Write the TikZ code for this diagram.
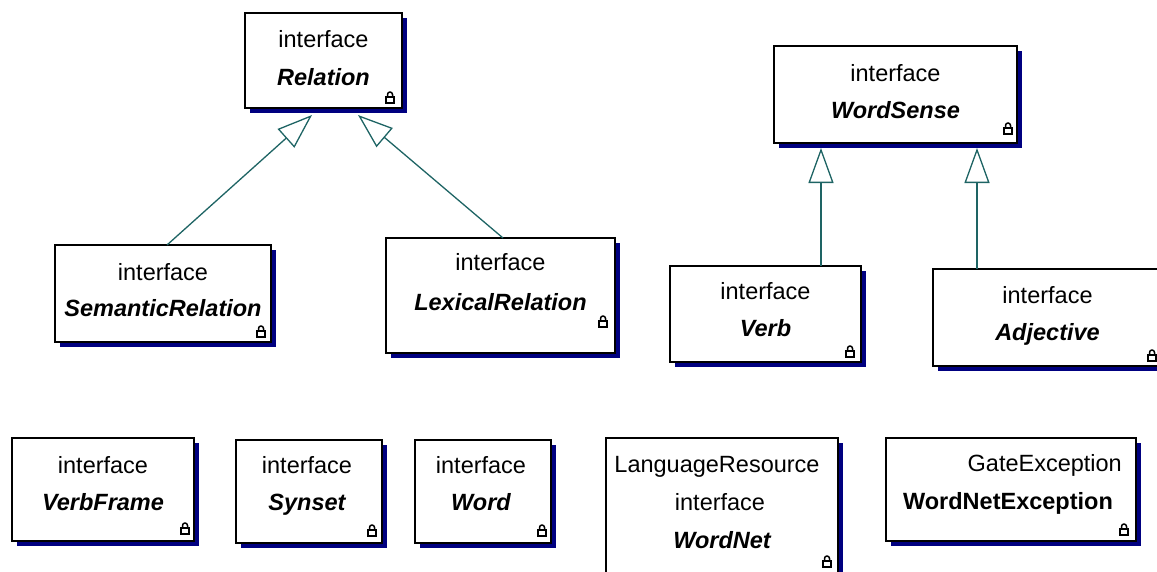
\documentclass[tikz,border=0pt]{standalone}
\usepackage{fontspec}
\setmainfont{Liberation Sans}
\usetikzlibrary{arrows.meta,shadows}
\definecolor{shadowblue}{RGB}{0,0,128}
\definecolor{linkteal}{RGB}{30,100,100}
\newcommand\umlnode[5]{\node[umlbox, anchor=north west, minimum width={#4pt-#2pt}, minimum height={#5pt-#3pt}] (#1) at (#2,#3) {};}
\tikzset{
  umlbox/.style={draw=black, line width=1.5pt, fill=white, inner sep=0pt, outer sep=0pt,
    general shadow={fill=shadowblue, shadow xshift=5pt, shadow yshift=-5pt}},
  itxt/.style={font=\fontsize{23.5pt}{28pt}\selectfont, inner sep=0pt, anchor=base},
  ntxt/.style={itxt, font=\fontsize{23.5pt}{28pt}\selectfont\bfseries\itshape},
  btxt/.style={itxt, font=\fontsize{23.5pt}{28pt}\selectfont\bfseries},
  gen/.style={draw=linkteal, line width=1.3pt, -{Triangle[open, length=35pt, width=25pt, line width=1.3pt]}},
  lock/.pic={
    \draw[line width=1.5pt, fill=white] (-4,0) rectangle (4,6);
    \draw[line width=1.5pt] (-2.5,0) -- (-2.5,-2.5) arc (180:360:2.5) -- (2.5,0);
  }
}
\begin{document}
\begin{tikzpicture}[x=1pt,y=-1pt]
\path[use as bounding box, clip] (0,0) rectangle (1157,571);

% boxes
\umlnode{rel}{245}{13}{402}{108}
\umlnode{sem}{55}{245}{271}{342}
\umlnode{lex}{386}{238}{615}{353}
\umlnode{ws}{774}{46}{1017}{143}
\umlnode{verb}{670}{266}{861}{362}
\umlnode{adj}{933}{269}{1162}{366}
\umlnode{vf}{12}{438}{194}{541}
\umlnode{syn}{236}{440}{382}{543}
\umlnode{word}{415}{440}{551}{543}
\umlnode{wn}{606}{438}{838}{600}
\umlnode{wne}{886}{438}{1136}{541}

% texts
\node[itxt] (rel-k) at (323.5,47.5) {interface};
\node[ntxt] (rel-n) at (323.5,85.5) {Relation};
\node[itxt] (sem-k) at (163,280.5) {interface};
\node[ntxt] (sem-n) at (163,316.5) {SemanticRelation};
\node[itxt] (lex-k) at (500.5,270.5) {interface};
\node[ntxt] (lex-n) at (500.5,310.5) {LexicalRelation};
\node[itxt] (ws-k) at (895.5,81.5) {interface};
\node[ntxt] (ws-n) at (895.5,118.5) {WordSense};
\node[itxt] (verb-k) at (765.5,299.5) {interface};
\node[ntxt] (verb-n) at (765.5,336.5) {Verb};
\node[itxt] (adj-k) at (1047.5,303.5) {interface};
\node[ntxt] (adj-n) at (1047.5,340.5) {Adjective};
\node[itxt] (vf-k) at (103,473.5) {interface};
\node[ntxt] (vf-n) at (103,510.5) {VerbFrame};
\node[itxt] (syn-k) at (307,473.5) {interface};
\node[ntxt] (syn-n) at (307,510.5) {Synset};
\node[itxt] (word-k) at (481,473.5) {interface};
\node[ntxt] (word-n) at (481,510.5) {Word};
\node[itxt] (wn-s) at (717,472.5) {LanguageResource};
\node[itxt] (wn-k) at (720,510.5) {interface};
\node[ntxt] (wn-n) at (722,548.5) {WordNet};
\node[itxt, anchor=base east] (wne-s) at (1122,471.5) {GateException};
\node[btxt] (wne-n) at (1008,509.5) {WordNetException};

% locks
\pic at (390,97) {lock};
\pic at (261,331) {lock};
\pic at (603,321) {lock};
\pic at (1008,128) {lock};
\pic at (850,351) {lock};
\pic at (1152,355) {lock};
\pic at (185,528) {lock};
\pic at (372,530) {lock};
\pic at (542,530) {lock};
\pic at (827,561) {lock};
\pic at (1124,529) {lock};

% generalisations
\draw[gen] ([xshift=4pt]sem.north) -- ([xshift=-11.5pt,yshift=-7pt]rel.south);
\draw[gen] ([xshift=2.5pt]lex.north) -- ([xshift=34.5pt,yshift=-7pt]rel.south);
\draw[gen] ([xshift=55.5pt]verb.north) -- ([xshift=-74.5pt,yshift=-5pt]ws.south);
\draw[gen] ([xshift=-70.5pt]adj.north) -- ([xshift=81.5pt,yshift=-5pt]ws.south);
\end{tikzpicture}
\end{document}
